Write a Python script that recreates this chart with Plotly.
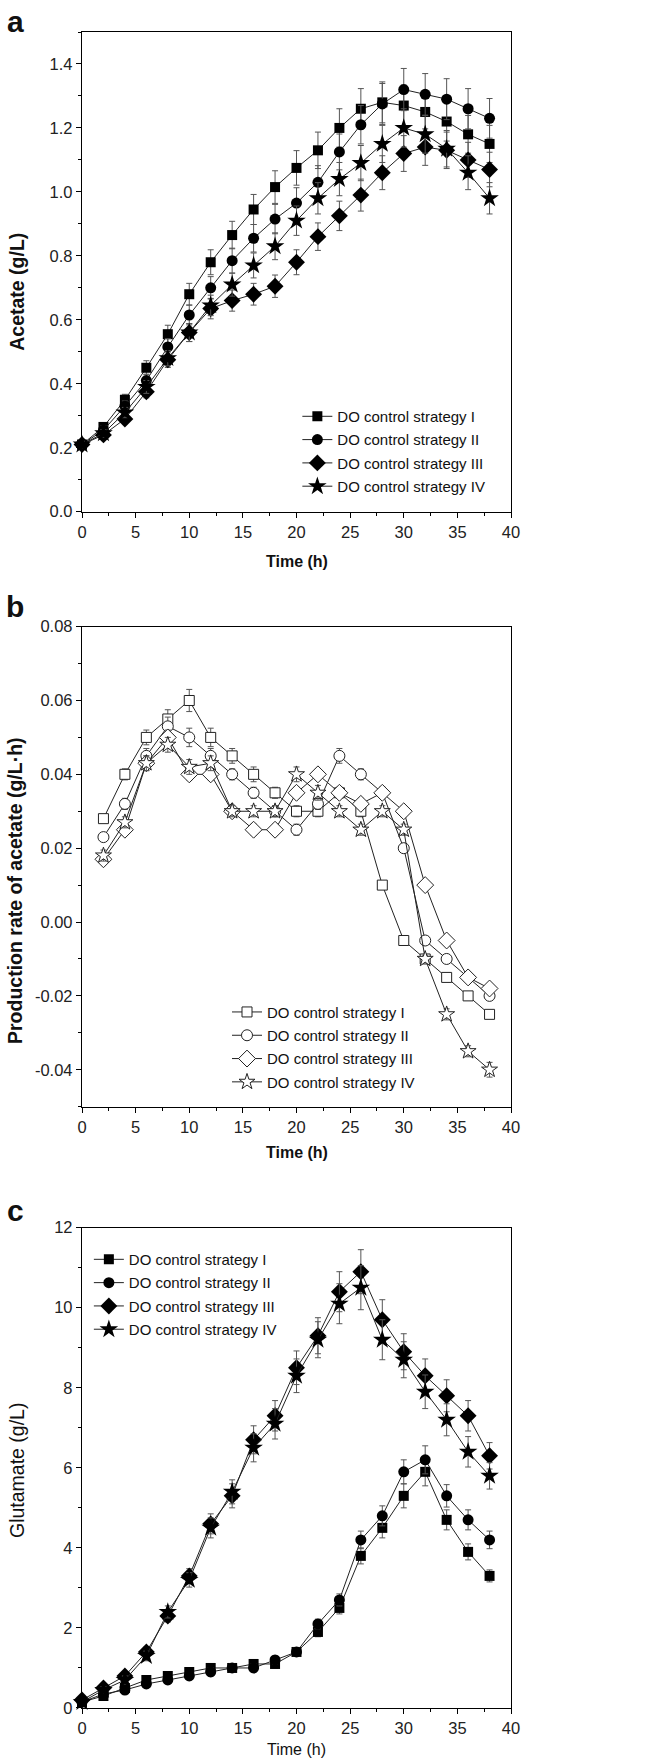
import plotly.graph_objects as go

# Temps d'échantillonnage
t_a = [0, 2, 4, 6, 8, 10, 12, 14, 16, 18, 20, 22, 24, 26, 28, 30, 32, 34, 36, 38]
t_b = [2, 4, 6, 8, 10, 12, 14, 16, 18, 20, 22, 24, 26, 28, 30, 32, 34, 36, 38]
t_c = t_a

labels = ["DO control strategy I", "DO control strategy II",
          "DO control strategy III", "DO control strategy IV"]

# (a) Acetate (g/L)
acet_I = [0.21, 0.265, 0.35, 0.45, 0.555, 0.68, 0.78, 0.865, 0.945, 1.015, 1.075, 1.13, 1.20, 1.26, 1.28, 1.27, 1.25, 1.22, 1.18, 1.15]
acet_II = [0.21, 0.255, 0.33, 0.41, 0.515, 0.615, 0.70, 0.785, 0.855, 0.915, 0.965, 1.03, 1.125, 1.21, 1.275, 1.32, 1.305, 1.29, 1.26, 1.23]
acet_III = [0.21, 0.24, 0.29, 0.375, 0.475, 0.56, 0.635, 0.66, 0.68, 0.705, 0.78, 0.86, 0.925, 0.99, 1.06, 1.12, 1.14, 1.13, 1.10, 1.07]
acet_IV = [0.21, 0.245, 0.31, 0.39, 0.48, 0.56, 0.645, 0.71, 0.77, 0.83, 0.91, 0.98, 1.04, 1.09, 1.15, 1.20, 1.18, 1.135, 1.06, 0.98]
acet_err_I = [0.01, 0.013, 0.017, 0.022, 0.028, 0.034, 0.039, 0.043, 0.047, 0.051, 0.054, 0.057, 0.06, 0.063, 0.064, 0.064, 0.063, 0.061, 0.059, 0.058]
acet_err_II = [0.01, 0.013, 0.016, 0.02, 0.026, 0.031, 0.035, 0.039, 0.043, 0.046, 0.048, 0.052, 0.056, 0.06, 0.064, 0.066, 0.065, 0.064, 0.063, 0.062]
acet_err_III = [0.01, 0.012, 0.015, 0.019, 0.024, 0.028, 0.032, 0.033, 0.034, 0.035, 0.039, 0.043, 0.046, 0.05, 0.053, 0.056, 0.057, 0.057, 0.055, 0.054]
acet_err_IV = [0.01, 0.012, 0.016, 0.02, 0.024, 0.028, 0.032, 0.036, 0.039, 0.042, 0.046, 0.049, 0.052, 0.055, 0.058, 0.06, 0.059, 0.057, 0.053, 0.049]

# (b) Production rate of acetate (g/L·h)
rate_I = [0.028, 0.040, 0.050, 0.055, 0.060, 0.050, 0.045, 0.040, 0.035, 0.030, 0.030, 0.035, 0.030, 0.010, -0.005, -0.010, -0.015, -0.020, -0.025]
rate_II = [0.023, 0.032, 0.045, 0.053, 0.050, 0.045, 0.040, 0.035, 0.030, 0.025, 0.032, 0.045, 0.040, 0.035, 0.020, -0.005, -0.010, -0.015, -0.020]
rate_III = [0.017, 0.025, 0.043, 0.050, 0.040, 0.040, 0.030, 0.025, 0.025, 0.035, 0.040, 0.035, 0.032, 0.035, 0.030, 0.010, -0.005, -0.015, -0.018]
rate_IV = [0.018, 0.027, 0.043, 0.048, 0.042, 0.043, 0.030, 0.030, 0.030, 0.040, 0.035, 0.030, 0.025, 0.030, 0.025, -0.010, -0.025, -0.035, -0.040]
rate_err_I = [0.001, 0.0015, 0.002, 0.0025, 0.003, 0.0025, 0.002, 0.002, 0.0015, 0.0015, 0.0015, 0.0015, 0.0015, 0.001, 0.001, 0.001, 0.001, 0.001, 0.001]
rate_err_II = [0.001, 0.0015, 0.002, 0.0025, 0.0025, 0.002, 0.0015, 0.0015, 0.0015, 0.0015, 0.0015, 0.002, 0.0015, 0.0015, 0.001, 0.001, 0.001, 0.001, 0.001]
rate_err_III = [0.001, 0.0015, 0.002, 0.002, 0.0015, 0.0015, 0.0015, 0.0015, 0.0015, 0.0015, 0.0015, 0.0015, 0.0015, 0.0015, 0.0015, 0.001, 0.001, 0.001, 0.001]
rate_err_IV = [0.0015, 0.0015, 0.002, 0.002, 0.002, 0.002, 0.0015, 0.0015, 0.0015, 0.002, 0.002, 0.0015, 0.0015, 0.0015, 0.0015, 0.001, 0.0015, 0.0015, 0.002]

# (c) Glutamate (g/L)
glu_I = [0.15, 0.3, 0.5, 0.7, 0.8, 0.9, 1.0, 1.0, 1.1, 1.1, 1.4, 1.9, 2.5, 3.8, 4.5, 5.3, 5.9, 4.7, 3.9, 3.3]
glu_II = [0.15, 0.35, 0.45, 0.6, 0.7, 0.8, 0.9, 1.0, 1.0, 1.2, 1.4, 2.1, 2.7, 4.2, 4.8, 5.9, 6.2, 5.3, 4.7, 4.2]
glu_III = [0.2, 0.5, 0.8, 1.4, 2.3, 3.3, 4.6, 5.3, 6.7, 7.3, 8.5, 9.3, 10.4, 10.9, 9.7, 8.9, 8.3, 7.8, 7.3, 6.3]
glu_IV = [0.15, 0.45, 0.7, 1.3, 2.4, 3.2, 4.5, 5.4, 6.5, 7.1, 8.3, 9.2, 10.1, 10.5, 9.2, 8.7, 7.9, 7.2, 6.4, 5.8]
glu_err_I = [0.05, 0.05, 0.06, 0.07, 0.08, 0.09, 0.1, 0.1, 0.1, 0.1, 0.1, 0.12, 0.15, 0.2, 0.25, 0.3, 0.35, 0.25, 0.2, 0.15]
glu_err_II = [0.05, 0.05, 0.06, 0.07, 0.08, 0.09, 0.1, 0.1, 0.1, 0.1, 0.1, 0.12, 0.15, 0.22, 0.25, 0.3, 0.35, 0.28, 0.25, 0.22]
glu_err_III = [0.05, 0.08, 0.1, 0.12, 0.15, 0.18, 0.25, 0.3, 0.35, 0.38, 0.42, 0.45, 0.5, 0.55, 0.5, 0.45, 0.42, 0.4, 0.38, 0.33]
glu_err_IV = [0.05, 0.08, 0.1, 0.12, 0.15, 0.18, 0.25, 0.3, 0.35, 0.38, 0.42, 0.45, 0.5, 0.55, 0.5, 0.45, 0.42, 0.4, 0.38, 0.33]

FONT = "Liberation Sans, Arial, sans-serif"
symbols = ["square", "circle", "diamond", "star"]
sizes_full = [10, 11, 13, 14]
sizes_open = [10, 11, 13, 12]

fig = go.Figure()


def add_panel(x, ys, errs, xa, ya, legend, filled):
    for i in range(4):
        if filled:
            marker = dict(symbol=symbols[i], size=sizes_full[i], color="black",
                          line=dict(width=0))
        else:
            marker = dict(symbol=symbols[i], size=sizes_open[i], color="white",
                          line=dict(width=1, color="#222"))
        fig.add_trace(go.Scatter(
            x=x, y=ys[i], mode="lines+markers", name=labels[i],
            xaxis=xa, yaxis=ya, legend=legend, legendgroup=legend + str(i),
            line=dict(color="#222", width=1),
            marker=marker, cliponaxis=False,
            error_y=dict(type="data", array=errs[i], color="#555",
                         thickness=1, width=3),
        ))


add_panel(t_a, [acet_I, acet_II, acet_III, acet_IV],
          [acet_err_I, acet_err_II, acet_err_III, acet_err_IV], "x", "y", "legend", True)
add_panel(t_b, [rate_I, rate_II, rate_III, rate_IV],
          [rate_err_I, rate_err_II, rate_err_III, rate_err_IV], "x2", "y2", "legend2", False)
add_panel(t_c, [glu_I, glu_II, glu_III, glu_IV],
          [glu_err_I, glu_err_II, glu_err_III, glu_err_IV], "x3", "y3", "legend3", True)

axis_common = dict(
    showline=True, linecolor="black", linewidth=1.3, mirror=True,
    ticks="outside", ticklen=5, tickwidth=1.2, tickcolor="black",
    showgrid=False, zeroline=False,
    tickfont=dict(family=FONT, size=16.5, color="#222"),
)

xa = dict(axis_common, range=[0, 40], dtick=5, tick0=0,
          minor=dict(ticks="outside", ticklen=3, dtick=2.5, tickcolor="black"))

fig.update_layout(
    xaxis=dict(xa, domain=[0, 1], anchor="y"),
    xaxis2=dict(xa, domain=[0, 1], anchor="y2"),
    xaxis3=dict(xa, domain=[0, 1], anchor="y3"),
    yaxis=dict(axis_common, domain=[0.7138, 1.0], anchor="x", range=[0, 1.5],
               tickvals=[0, 0.2, 0.4, 0.6, 0.8, 1.0, 1.2, 1.4], tickformat=".1f",
               minor=dict(ticks="outside", ticklen=3, dtick=0.1, tickcolor="black")),
    yaxis2=dict(axis_common, domain=[0.3588, 0.6452], anchor="x2", range=[-0.05, 0.08],
                tickvals=[-0.04, -0.02, 0, 0.02, 0.04, 0.06, 0.08],
                ticktext=["-0.04", "-0.02", "0.00", "0.02", "0.04", "0.06", "0.08"],
                minor=dict(ticks="outside", ticklen=3, dtick=0.01, tickcolor="black")),
    yaxis3=dict(axis_common, domain=[0, 0.2866], anchor="x3", range=[0, 12],
                dtick=2, minor=dict(ticks="outside", ticklen=3, dtick=1, tickcolor="black")),
)

leg_common = dict(
    xanchor="left", yanchor="top", bgcolor="rgba(0,0,0,0)",
    font=dict(family=FONT, size=15, color="#111"),
    itemsizing="trace", tracegroupgap=0.8,
)
fig.update_layout(
    legend=dict(leg_common, x=0.502, y=0.7804),
    legend2=dict(leg_common, x=0.338, y=0.425),
    legend3=dict(leg_common, x=0.016, y=0.2774),
)


# Titres et lettres de panneaux
def note(text, x, y, size=16, bold=True, angle=0):
    fig.add_annotation(
        text=f"<b>{text}</b>" if bold else text, x=x, y=y, xref="paper", yref="paper",
        showarrow=False, textangle=angle, xanchor="center", yanchor="middle",
        font=dict(family=FONT, size=size, color="#111"),
    )


note("Time (h)", 0.5, 0.6838)
note("Acetate (g/L)", -0.1515, 0.845, size=19.5, angle=-90)
note("Time (h)", 0.5, 0.3317)
note("Production rate of acetate (g/L·h)", -0.156, 0.4875, size=19.5, angle=-90)
note("Time (h)", 0.5, -0.0245, bold=False)
note("Glutamate (g/L)", -0.1515, 0.1414, size=19.5, bold=False, angle=-90)
note("a", -0.156, 1.006, size=30)
note("b", -0.156, 0.657, size=30)
note("c", -0.156, 0.2966, size=30)

fig.update_layout(
    width=646, height=1764,
    margin=dict(l=82, r=135, t=32, b=56),
    plot_bgcolor="white", paper_bgcolor="white",
    font=dict(family=FONT, color="#111"),
)

# supprime la marge par défaut du <body> pour que le graphique occupe toute la fenêtre
fig.write_html("out.html", config={"displayModeBar": False},
               post_script="document.body.style.margin='0';")
